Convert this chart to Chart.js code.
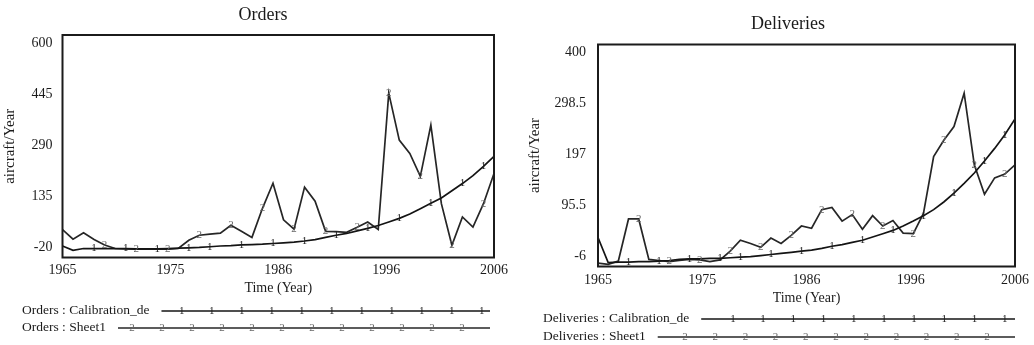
<!DOCTYPE html>
<html>
<head>
<meta charset="utf-8">
<title>Orders and Deliveries</title>
<script src="https://cdn.jsdelivr.net/npm/chart.js@4.4.1/dist/chart.umd.min.js"></script>
<style>
  html, body { margin: 0; padding: 0; background: #fff; }
  .wrap { position: relative; width: 1034px; height: 345px; overflow: hidden; }
  .panel { position: absolute; top: 0; width: 517px; height: 345px; }
  #ordersBox { left: 0; }
  #deliveriesBox { left: 517px; }
</style>
</head>
<body>
<div class="wrap">
  <div class="panel" id="ordersBox"><canvas id="ordersChart" width="517" height="345"></canvas></div>
  <div class="panel" id="deliveriesBox"><canvas id="deliveriesChart" width="517" height="345"></canvas></div>
</div>
<script>
// ---------------- data ----------------
const years = [
  1965, 1966, 1967, 1968, 1969, 1970, 1971, 1972, 1973, 1974,
  1975, 1976, 1977, 1978, 1979, 1980, 1981, 1982, 1983, 1984,
  1985, 1986, 1987, 1988, 1989, 1990, 1991, 1992, 1993, 1994,
  1995, 1996, 1997, 1998, 1999, 2000, 2001, 2002, 2003, 2004,
  2005, 2006
];

const ordersCalibration = [
  12, 0, 5, 5, 5, 5, 5, 4, 4, 4,
  5, 6, 7, 8, 10, 12, 13, 15, 16, 17,
  19, 21, 23, 26, 30, 36, 42, 47, 54, 61,
  69, 79, 89, 101, 116, 131, 146, 166, 186, 208,
  234, 262
];
const ordersSheet = [
  58, 31, 49, 30, 15, 5, 4, 3, 3, 3,
  3, 5, 28, 42, 45, 48, 70, 53, 36, 117,
  187, 85, 59, 176, 137, 53, 52, 50, 64, 79,
  58, 438, 307, 270, 206, 349, 130, 14, 93, 65,
  130, 214
];

const deliveriesCalibration = [
  47, 1, 2, 2, 3, 3, 4, 5, 7, 8,
  8, 9, 9, 10, 11, 12, 14, 16, 18, 20,
  22, 24, 27, 31, 34, 38, 42, 48, 54, 60,
  68, 77, 87, 98, 112, 128, 146, 165, 187, 210,
  235, 264
];
const deliveriesSheet = [
  0, -2, 4, 81, 81, 7, 5, 3, 5, 7,
  6, 3, 6, 22, 42, 36, 29, 46, 36, 51,
  68, 64, 98, 102, 77, 89, 62, 87, 68, 78,
  55, 54, 91, 195, 225, 250, 311, 180, 126, 156,
  163, 180
];

const yearTicks = [1965, 1975.25, 1985.5, 1995.75, 2006];
const yearTickLabels = ['1965', '1975', '1986', '1996', '2006'];
const ordersTicks = [-20, 135, 290, 445, 600];
const deliveriesTicks = [-6, 95.5, 197, 298.5, 400];

// ---------------- look ----------------
const ink = '#1b1b1b';
const serif = '"Liberation Serif", "Times New Roman", serif';
Chart.defaults.font.family = serif;
Chart.defaults.color = ink;

function pairs(values) {
  return values.map((v, i) => ({ x: years[i], y: v }));
}

// box around the plot area
const framePlugin = {
  id: 'frame',
  afterDraw(chart) {
    const { ctx, chartArea: a } = chart;
    ctx.save();
    ctx.strokeStyle = ink;
    ctx.lineWidth = 2;
    ctx.strokeRect(a.left, a.top, a.right - a.left, a.bottom - a.top);
    ctx.restore();
  }
};

// the little "1" / "2" numbers riding on each line
const digitPlugin = {
  id: 'digits',
  afterDatasetsDraw(chart) {
    const ctx = chart.ctx;
    chart.data.datasets.forEach((ds, i) => {
      const meta = chart.getDatasetMeta(i);
      ctx.save();
      ctx.font = '11px ' + serif;
      ctx.fillStyle = ds.digitColor;
      ctx.textAlign = 'center';
      ctx.textBaseline = 'middle';
      for (let k = 0; ; k++) {
        const idx = Math.round(ds.digitFirst + k * ds.digitGap);
        if (idx >= meta.data.length) break;
        const pt = meta.data[idx];
        ctx.fillText(ds.digit, pt.x, pt.y);
      }
      ctx.restore();
    });
  }
};

// chart heading
const headingPlugin = {
  id: 'heading',
  afterDraw(chart, args, opts) {
    const ctx = chart.ctx;
    ctx.save();
    ctx.font = '18px ' + serif;
    ctx.fillStyle = ink;
    ctx.textAlign = 'center';
    ctx.textBaseline = 'middle';
    ctx.fillText(opts.text, opts.x, opts.y);
    ctx.restore();
  }
};

// key under the chart: name, then a long sample line with its digit
const keyPlugin = {
  id: 'key',
  afterDraw(chart, args, opts) {
    const ctx = chart.ctx;
    ctx.save();
    ctx.font = opts.fontSize + 'px ' + serif;
    chart.data.datasets.forEach((ds, i) => {
      const y = opts.top + i * opts.rowGap;
      ctx.fillStyle = ink;
      ctx.textAlign = 'left';
      ctx.textBaseline = 'middle';
      ctx.fillText(ds.label, opts.left, y);
      const x0 = opts.left + ctx.measureText(ds.label).width + 12;
      ctx.strokeStyle = ds.borderColor;
      ctx.lineWidth = 1.6;
      ctx.beginPath();
      ctx.moveTo(x0, y + 1);
      ctx.lineTo(opts.right, y + 1);
      ctx.stroke();
      ctx.save();
      ctx.font = '11px ' + serif;
      ctx.fillStyle = ds.digitColor;
      ctx.textAlign = 'center';
      for (let x = opts.digitStart[i]; x <= opts.right - 6; x += opts.digitStep) {
        if (x > x0 + 3) ctx.fillText(ds.digit, x, y + 1);
      }
      ctx.restore();
    });
    ctx.restore();
  }
};

function makeChart(canvasId, cfg) {
  const datasets = [
    {
      label: cfg.name + ' : Calibration_de',
      data: pairs(cfg.calibration),
      borderColor: '#141414',
      digit: '1',
      digitColor: '#1e1e1e',
      digitFirst: 2.8,
      digitGap: 2.9
    },
    {
      label: cfg.name + ' : Sheet1',
      data: pairs(cfg.sheet),
      borderColor: '#262626',
      digit: '2',
      digitColor: '#666',
      digitFirst: 3.9,
      digitGap: 3
    }
  ].map(ds => Object.assign(ds, {
    borderWidth: 1.7,
    pointRadius: 0,
    tension: 0,
    fill: false
  }));

  const yMin = cfg.yTicks[0];
  const yMax = cfg.yTicks[cfg.yTicks.length - 1];

  return new Chart(document.getElementById(canvasId), {
    type: 'line',
    data: { datasets: datasets },
    options: {
      responsive: false,
      animation: false,
      layout: { padding: cfg.padding },
      plugins: {
        legend: { display: false },
        tooltip: { enabled: false },
        heading: cfg.heading,
        key: cfg.key
      },
      scales: {
        x: {
          type: 'linear',
          min: 1965,
          max: 2006,
          grid: { display: false, drawTicks: false },
          border: { display: false },
          afterBuildTicks: scale => {
            scale.ticks = yearTicks.map(v => ({ value: v }));
          },
          afterFit: scale => { scale.height = 42; },
          ticks: {
            autoSkip: false,
            maxRotation: 0,
            padding: cfg.xTickPad,
            font: { size: 14 },
            callback: (v, i) => yearTickLabels[i]
          },
          title: {
            display: true,
            text: 'Time (Year)',
            font: { size: 14 },
            padding: { top: 0, bottom: cfg.xTitlePad }
          }
        },
        y: {
          min: yMin,
          max: yMax,
          grid: { display: false, drawTicks: false },
          border: { display: false },
          // labels sit a little inside the ends of the axis
          afterBuildTicks: scale => {
            scale.ticks = cfg.yTicks.map((v, i) => ({
              value: yMin + (yMax - yMin) * (0.044 + 0.23 * i)
            }));
          },
          afterFit: scale => { scale.width = cfg.yAxisWidth; },
          ticks: {
            padding: cfg.yTickPad,
            font: { size: 14 },
            callback: (v, i) => String(cfg.yTicks[i])
          },
          title: {
            display: true,
            text: 'aircraft/Year',
            font: { size: 15 },
            padding: { top: cfg.yTitlePad, bottom: 0 }
          }
        }
      }
    },
    plugins: [framePlugin, digitPlugin, headingPlugin, keyPlugin]
  });
}

makeChart('ordersChart', {
  name: 'Orders',
  calibration: ordersCalibration,
  sheet: ordersSheet,
  yTicks: ordersTicks,
  padding: { top: 35, right: 23, bottom: 45.5, left: 0 },
  yAxisWidth: 62.5,
  yTickPad: 10,
  yTitlePad: 1,
  xTickPad: 4,
  xTitlePad: 3,
  heading: { text: 'Orders', x: 263, y: 15 },
  key: { left: 22, top: 310, rowGap: 17, right: 490, fontSize: 13.5,
         digitStart: [181.7, 132], digitStep: 30 }
});

makeChart('deliveriesChart', {
  name: 'Deliveries',
  calibration: deliveriesCalibration,
  sheet: deliveriesSheet,
  yTicks: deliveriesTicks,
  padding: { top: 44.5, right: 15, bottom: 36.5, left: 0 },
  yAxisWidth: 81,
  yTickPad: 12,
  yTitlePad: 9,
  xTickPad: 5,
  xTitlePad: 2,
  heading: { text: 'Deliveries', x: 271, y: 24 },
  key: { left: 26, top: 318, rowGap: 18, right: 498, fontSize: 13.5,
         digitStart: [185.7, 168], digitStep: 30.2 }
});
</script>
</body>
</html>
